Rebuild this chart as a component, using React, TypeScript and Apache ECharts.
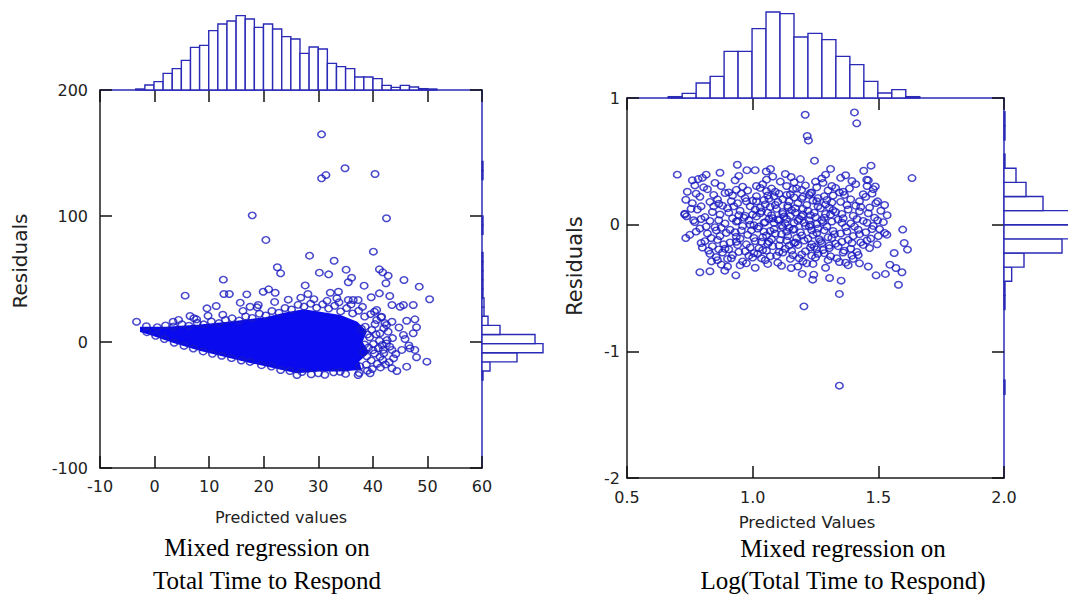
import React, { useEffect, useRef } from "react";
import * as echarts from "echarts";

// ---------- tick labels ----------
const leftXTicks = [-10, 0, 10, 20, 30, 40, 50, 60];
const leftYTicks = [-100, 0, 100, 200];
const rightXTicks = [0.5, 1.0, 1.5, 2.0];
const rightYTicks = [-2, -1, 0, 1];

// ---------- marginal histograms (counts) ----------
const leftTopBinStart = -3.45;
const leftTopBinWidth = 1.672;
const leftTopCounts = [3, 15, 25, 50, 64, 89, 128, 134, 178, 198, 207, 223, 213, 188, 198, 183, 160, 153, 110, 129, 123, 80, 70, 64, 39, 39, 34, 14, 8, 14, 9, 4, 3];

const leftSideBinStart = -30.2;
const leftSideBinWidth = 7.23;
const leftSideCounts = [3, 24, 105, 183, 159, 54, 18, 6, 6, 3, 3, 3, 3, 3, 0, 0, 3, 3, 0, 0, 0, 0, 3, 3];

const rightTopBinStart = 0.664;
const rightTopBinWidth = 0.0556;
const rightTopCounts = [4, 14, 45, 65, 140, 140, 208, 258, 253, 183, 194, 175, 125, 100, 50, 15, 25, 4];

const rightSideBinStart = -1.3385;
const rightSideBinWidth = 0.1115;
const rightSideCounts = [3, 0, 0, 0, 0, 0, 3, 3, 23, 60, 174, 195, 200, 117, 66, 36, 3, 0, 3, 3];

// ---------- scatter: left (raw residuals) ----------
const leftDenseCore = [
  [-2.4, 11.0], [2.2, 11.0], [8.3, 12.8], [14.4, 15.3], [20.5, 18.6], [24.2, 22.5], [27.3, 24.8],
  [30.3, 22.8], [34.0, 20.2], [37.0, 15.0], [38.6, 8.0], [37.8, 0.0], [39.0, -8.0], [37.2, -15.0],
  [37.6, -21.0], [34.4, -22.3], [30.3, -22.3], [26.0, -23.6], [22.4, -20.0], [18.1, -16.0], [13.2, -11.0],
  [8.3, -5.8], [3.4, 0.6], [-0.2, 5.8], [-2.4, 8.8]
];
const leftPoints = [
  [30.6, 164.8], [34.9, 137.9], [40.4, 133.3], [30.6, 129.9], [31.4, 132.5], [17.9, 100.5], [42.5, 98.2],
  [20.4, 81.0], [28.4, 68.5], [40.1, 71.7], [32.9, 64.5], [22.5, 59.3], [23.1, 54.5], [30.2, 55.0],
  [31.9, 53.7], [35.1, 57.4], [41.2, 57.7], [41.8, 55.3], [42.8, 52.6], [36.1, 51.0], [35.5, 47.4],
  [42.4, 46.6], [45.7, 49.2], [48.5, 43.9], [12.6, 49.5], [27.6, 44.9], [38.4, 44.7], [5.6, 36.8],
  [12.7, 38.1], [13.7, 38.1], [16.9, 37.8], [9.6, 26.7], [11.3, 28.6], [6.5, 20.6], [7.7, 18.0],
  [-3.3, 16.1], [3.4, 16.1], [15.7, 31.2], [17.5, 28.0], [19.0, 29.4], [19.9, 39.9], [20.9, 41.8],
  [22.1, 39.1], [28.1, 38.1], [32.2, 39.1], [33.7, 39.9], [33.4, 34.7], [35.5, 33.3], [36.4, 33.3],
  [37.3, 33.3], [39.7, 35.5], [41.2, 38.6], [43.1, 36.5], [43.5, 29.4], [45.0, 28.0], [45.6, 29.4],
  [47.4, 29.4], [50.4, 33.9], [40.7, 25.4], [41.6, 20.1], [43.5, 16.1], [42.5, 13.5], [46.2, 16.9],
  [47.7, 18.0], [48.0, 11.7], [47.4, 6.9], [45.6, 5.6], [43.1, -3.7], [43.5, -6.3], [45.3, -6.3],
  [46.8, -5.0], [47.7, -6.3], [43.8, -12.9], [48.0, -12.1], [49.9, -15.6], [43.5, -20.9], [44.4, -23.0],
  [46.2, -19.6], [39.5, -24.8], [37.3, -26.2], [34.0, -23.6], [30.0, -24.8], [26.1, -26.2], [41.9, -6.3],
  [41.3, 6.9],
  [-1.5, 12.5], [0.5, 11.8], [2.0, 13.2], [3.5, 12.4], [5.0, 14.1], [6.3, 12.9], [7.8, 15.2], [9.0, 14.0],
  [10.4, 16.3], [11.8, 15.0], [13.0, 17.5], [14.2, 18.8], [15.5, 17.0], [16.7, 20.3], [17.9, 19.1],
  [19.2, 22.4], [20.4, 21.0], [21.5, 24.6], [22.8, 23.2], [23.9, 27.0], [25.1, 25.8], [26.3, 29.5],
  [27.4, 28.1], [28.6, 30.4], [29.7, 27.2], [30.8, 29.9], [31.9, 26.5], [33.0, 28.8], [34.1, 24.3],
  [35.2, 26.9], [36.3, 22.7], [37.4, 24.8], [38.5, 20.2], [39.6, 22.1], [40.7, 17.4], [41.5, 19.6],
  [42.2, 15.0], [12.5, 21.6], [16.2, 24.7], [18.8, 27.5], [22.0, 31.8], [24.5, 33.6], [26.8, 35.2],
  [29.2, 34.0], [31.6, 32.7], [33.8, 31.5], [36.0, 29.8], [38.1, 27.9], [40.3, 24.0], [7.2, 18.9],
  [9.8, 20.8], [4.4, 17.5],
  [42.8, 8.2], [43.6, 3.1], [42.5, -1.2], [44.2, -9.5], [43.0, -16.0], [41.8, -14.2], [42.6, 1.5],
  [44.8, 11.5], [45.9, 2.4], [46.6, -2.8],
  [39.0, -22.8], [37.5, -24.6], [35.0, -25.3], [32.8, -24.1], [31.2, -26.0], [28.7, -25.6], [27.0, -23.9],
  [24.8, -23.0], [23.1, -22.2], [21.4, -19.5], [19.6, -18.4], [17.5, -15.8], [15.9, -14.7], [14.1, -12.8],
  [12.3, -10.9], [10.6, -9.4], [8.9, -7.5], [7.1, -5.2], [5.4, -3.1], [3.6, -0.6], [1.8, 2.3], [0.2, 4.9],
  [-1.4, 7.8],
  [38.6, 12.2], [39.8, 9.6], [40.6, 6.1], [39.4, 3.8], [41.2, 1.0], [40.1, -1.6], [39.2, -4.3], [41.0, -4.9],
  [40.3, -9.1], [38.9, -11.4], [41.3, -11.8], [39.7, -14.6], [40.8, -17.3], [38.8, -17.9], [41.4, -20.2],
  [39.9, -21.5], [42.0, -9.0], [40.0, -6.5], [38.5, -2.0], [41.7, -2.4], [39.0, 6.0], [37.9, 10.5],
  [40.4, 14.2], [42.0, 11.0], [38.3, -8.2], [37.6, -19.3], [42.3, -17.8]
];

// ---------- scatter: right (log residuals) ----------
const rightPoints = [
  [1.209, 0.868], [1.405, 0.886], [1.414, 0.80], [1.217, 0.70], [1.222, 0.665], [1.246, 0.505], [0.70, 0.395],
  [1.634, 0.368], [0.939, 0.473], [0.977, 0.43], [0.76, 0.35], [0.783, 0.36], [1.471, 0.466], [1.442, 0.426],
  [1.29, 0.395], [1.054, 0.42], [1.071, 0.44], [1.153, 0.376], [0.734, 0.197], [0.73, 0.087], [0.737, 0.066],
  [0.734, -0.105], [0.836, -0.29], [0.79, -0.376], [0.83, -0.368], [0.889, -0.363], [0.933, -0.40],
  [1.153, -0.342], [1.197, -0.389], [1.243, -0.395], [1.306, -0.421], [1.352, -0.442], [1.491, -0.40],
  [1.528, -0.389], [1.58, -0.474], [1.546, -0.316], [1.57, -0.342], [1.594, -0.376], [1.534, -0.079],
  [1.597, -0.039], [1.603, -0.145], [1.616, -0.197], [1.563, -0.224], [1.497, 0.034], [1.497, 0.184],
  [1.488, 0.302], [1.454, 0.355], [1.204, -0.645], [1.345, -1.271], [1.345, -0.547], [1.239, -0.434],
  [0.87, 0.41], [1.01, 0.43], [1.13, 0.40], [1.31, 0.44], [1.37, 0.39],
  [0.80, 0.37], [0.93, 0.35], [1.08, 0.38], [1.19, 0.36], [1.25, 0.34], [1.35, 0.37], [1.46, 0.35],
  [0.77, 0.31], [0.85, 0.33], [0.96, 0.30], [1.04, 0.32], [1.11, 0.34], [1.21, 0.31], [1.28, 0.33], [1.33, 0.29], [1.41, 0.32], [1.48, 0.28],
  [0.74, 0.26], [0.82, 0.28], [0.89, 0.25], [0.98, 0.27], [1.03, 0.29], [1.09, 0.26], [1.16, 0.28], [1.23, 0.25], [1.30, 0.27], [1.36, 0.26], [1.44, 0.24],
  [0.79, 0.22], [0.86, 0.20], [0.92, 0.23], [0.97, 0.21], [1.06, 0.23], [1.12, 0.20], [1.15, 0.24], [1.20, 0.22], [1.26, 0.21], [1.32, 0.23], [1.39, 0.20], [1.45, 0.22],
  [0.76, 0.17], [0.83, 0.18], [0.88, 0.15], [0.94, 0.17], [1.00, 0.19], [1.05, 0.16], [1.10, 0.18], [1.14, 0.15], [1.18, 0.17], [1.24, 0.19], [1.29, 0.16], [1.35, 0.18], [1.41, 0.15], [1.49, 0.17],
  [0.78, 0.12], [0.84, 0.10], [0.90, 0.13], [0.95, 0.11], [1.01, 0.12], [1.07, 0.14], [1.12, 0.10], [1.17, 0.13], [1.22, 0.11], [1.27, 0.13], [1.33, 0.10], [1.38, 0.12], [1.43, 0.14], [1.51, 0.11],
  [0.73, 0.08], [0.81, 0.06], [0.87, 0.08], [0.92, 0.05], [0.97, 0.07], [1.03, 0.09], [1.08, 0.05], [1.15, 0.07], [1.20, 0.08], [1.25, 0.06], [1.31, 0.08], [1.36, 0.05], [1.40, 0.07], [1.46, 0.09],
  [0.77, 0.02], [0.83, 0.03], [0.89, 0.01], [0.94, 0.03], [0.99, 0.00], [1.05, 0.02], [1.10, 0.04], [1.13, 0.01], [1.18, 0.03], [1.23, 0.00], [1.28, 0.02], [1.34, 0.04], [1.39, 0.01], [1.44, 0.03], [1.52, 0.02],
  [0.79, -0.03], [0.85, -0.02], [0.91, -0.04], [0.96, -0.01], [1.02, -0.03], [1.07, -0.05], [1.12, -0.02], [1.16, -0.04], [1.21, -0.01], [1.26, -0.03], [1.32, -0.05], [1.37, -0.02], [1.42, -0.04], [1.48, -0.01],
  [0.75, -0.08], [0.82, -0.07], [0.87, -0.09], [0.93, -0.06], [0.98, -0.08], [1.04, -0.10], [1.09, -0.07], [1.14, -0.09], [1.19, -0.06], [1.24, -0.08], [1.30, -0.10], [1.35, -0.07], [1.40, -0.09], [1.45, -0.06], [1.50, -0.09],
  [0.81, -0.13], [0.86, -0.12], [0.91, -0.14], [0.95, -0.11], [1.01, -0.13], [1.06, -0.15], [1.11, -0.12], [1.17, -0.14], [1.22, -0.11], [1.27, -0.13], [1.33, -0.15], [1.38, -0.12], [1.43, -0.14], [1.47, -0.11],
  [0.80, -0.18], [0.84, -0.17], [0.89, -0.19], [0.94, -0.16], [0.99, -0.18], [1.04, -0.20], [1.08, -0.17], [1.13, -0.19], [1.18, -0.16], [1.23, -0.18], [1.28, -0.20], [1.34, -0.17], [1.39, -0.19], [1.44, -0.16],
  [0.83, -0.23], [0.88, -0.22], [0.92, -0.24], [0.97, -0.21], [1.02, -0.23], [1.07, -0.25], [1.12, -0.22], [1.16, -0.24], [1.21, -0.21], [1.26, -0.23], [1.31, -0.25], [1.36, -0.22], [1.42, -0.24],
  [0.86, -0.28], [0.90, -0.27], [0.96, -0.29], [1.00, -0.26], [1.05, -0.28], [1.10, -0.30], [1.15, -0.27], [1.20, -0.29], [1.25, -0.26], [1.30, -0.28], [1.37, -0.30], [1.40, -0.27],
  [0.90, -0.33], [0.95, -0.32], [1.01, -0.34], [1.06, -0.31], [1.18, -0.33], [1.24, -0.31], [1.29, -0.34], [1.38, -0.32], [1.46, -0.33],
  [0.99, 0.145], [1.035, 0.105], [1.065, 0.045], [1.095, 0.125], [1.125, 0.065], [1.155, 0.115], [1.185, 0.045], [1.215, 0.155],
  [1.245, 0.095], [1.275, 0.035], [1.305, 0.135], [1.005, -0.005], [1.045, -0.055], [1.085, 0.015], [1.115, -0.075], [1.145, -0.025],
  [1.175, -0.105], [1.205, 0.015], [1.235, -0.045], [1.265, -0.115], [1.295, -0.015], [1.325, -0.075], [0.965, 0.055], [0.935, -0.095],
  [0.975, -0.155], [1.025, -0.185], [1.065, -0.135], [1.105, -0.215], [1.145, -0.165], [1.195, -0.235], [1.235, -0.155], [1.285, -0.225],
  [1.355, -0.135], [0.915, 0.185], [0.955, 0.245], [1.015, 0.225], [1.055, 0.265], [1.135, 0.235], [1.175, 0.285], [1.235, 0.255],
  [1.285, 0.225], [1.345, 0.255], [1.375, 0.155], [1.415, 0.045], [0.865, 0.035], [0.855, -0.045], [0.905, -0.195], [0.845, 0.145],
  [0.815, 0.395], [0.945, 0.385], [1.055, 0.355], [1.165, 0.335], [1.275, 0.365], [1.395, 0.345],
  [0.805, 0.295], [0.875, 0.305], [0.935, 0.275], [1.015, 0.305], [1.075, 0.285], [1.135, 0.305], [1.195, 0.275], [1.255, 0.295],
  [1.315, 0.305], [1.385, 0.285], [1.455, 0.305],
  [0.775, 0.245], [0.845, 0.235], [0.905, 0.255], [1.045, 0.195], [1.085, 0.225], [1.165, 0.215], [1.225, 0.235], [1.295, 0.195],
  [1.365, 0.235], [1.425, 0.185], [1.475, 0.245],
  [0.795, 0.145], [0.865, 0.165], [0.925, 0.145], [0.975, 0.185], [1.465, 0.135], [1.525, 0.155], [0.755, 0.125],
  [0.795, 0.045], [0.905, 0.095], [0.945, 0.075], [1.355, 0.085], [1.425, 0.105], [1.485, 0.055], [1.535, 0.075], [0.765, 0.035],
  [0.815, -0.015], [0.875, -0.025], [0.935, 0.025], [1.355, 0.015], [1.405, -0.015], [1.455, 0.015], [1.505, -0.035],
  [0.775, -0.055], [0.835, -0.105], [0.895, -0.065], [0.955, -0.045], [1.375, -0.055], [1.425, -0.075], [1.475, -0.035], [1.525, -0.065],
  [0.795, -0.145], [0.885, -0.155], [0.935, -0.135], [1.395, -0.145], [1.455, -0.125], [1.495, -0.155],
  [0.825, -0.205], [0.865, -0.195], [0.945, -0.215], [1.005, -0.225], [1.055, -0.205], [1.155, -0.205], [1.255, -0.195], [1.305, -0.185],
  [1.365, -0.205], [1.415, -0.215], [1.465, -0.185],
  [0.855, -0.255], [0.915, -0.265], [0.985, -0.245], [1.035, -0.265], [1.095, -0.245], [1.185, -0.265], [1.235, -0.245], [1.335, -0.265], [1.395, -0.245],
  [0.875, -0.315], [0.975, -0.305], [1.115, -0.325], [1.215, -0.305], [1.345, -0.295], [1.425, -0.305],
  [1.0, 0.08], [1.03, 0.135], [1.06, 0.095], [1.09, 0.155], [1.12, 0.085], [1.14, 0.135], [1.17, 0.095], [1.2, 0.125], [1.23, 0.075],
  [1.26, 0.145], [1.29, 0.085], [1.32, 0.115],
  [0.985, 0.035], [1.015, 0.065], [1.045, 0.015], [1.075, 0.075], [1.105, 0.035], [1.135, 0.045], [1.165, 0.015], [1.195, 0.065],
  [1.225, 0.035], [1.255, 0.005], [1.285, 0.055], [1.315, 0.025],
  [0.995, -0.045], [1.025, -0.015], [1.055, -0.085], [1.085, -0.035], [1.115, -0.005], [1.135, -0.055], [1.165, -0.035], [1.195, -0.085],
  [1.225, -0.015], [1.255, -0.065], [1.285, -0.045], [1.315, -0.105],
  [1.005, -0.105], [1.035, -0.135], [1.075, -0.115], [1.105, -0.165], [1.135, -0.125], [1.165, -0.145], [1.205, -0.125], [1.245, -0.175],
  [1.275, -0.145], [1.305, -0.165],
  [1.015, 0.185], [1.065, 0.205], [1.105, 0.245], [1.145, 0.185], [1.195, 0.205], [1.255, 0.185], [1.315, 0.175]
];

// ---------- styles ----------
const AXIS_DARK = "#1e1e1e";
const FRAME_BLUE = "#2b2bb8";
const HIST_BLUE = "#2a2ab6";
const POINT_BLUE = "#1a1abf";
const CORE_BLUE = "#0a0aee";
const SANS = '"DejaVu Sans", sans-serif';
const SERIF = '"Liberation Serif", "Times New Roman", serif';

function bins(start: number, width: number, counts: number[]) {
  return counts.map((c, i) => [start + i * width, start + (i + 1) * width, c]);
}

function topHist(params: any, api: any) {
  const c = api.value(2);
  if (!c) return null;
  const p0 = api.coord([api.value(0), c]);
  const p1 = api.coord([api.value(1), 0]);
  return {
    type: "rect",
    shape: { x: p0[0], y: p0[1], width: p1[0] - p0[0], height: p1[1] - p0[1] },
    style: { fill: "#fff", stroke: HIST_BLUE, lineWidth: 1.4 },
  };
}

function sideHist(params: any, api: any) {
  const c = api.value(2);
  if (!c) return null;
  const p0 = api.coord([0, api.value(1)]);
  const p1 = api.coord([c, api.value(0)]);
  return {
    type: "rect",
    shape: { x: p0[0], y: p0[1], width: p1[0] - p0[0], height: p1[1] - p0[1] },
    style: { fill: "#fff", stroke: HIST_BLUE, lineWidth: 1.4 },
  };
}

function corePolygon(points: number[][], fill: string) {
  return (params: any, api: any) => {
    if (params.dataIndex !== 0) return null;
    return {
      type: "polygon",
      shape: { points: points.map((p) => api.coord(p)) },
      style: { fill, stroke: fill, lineWidth: 3 },
    };
  };
}

function mainAxis(grid: number, ticks: number[], pos: string, labels: boolean, margin = 10, fmt?: (v: number) => string) {
  const frame = pos === "top" || pos === "right";
  return {
    type: "value",
    gridIndex: grid,
    position: pos,
    min: ticks[0],
    max: ticks[ticks.length - 1],
    interval: ticks[1] - ticks[0],
    splitLine: { show: false },
    axisLine: { show: true, onZero: false, lineStyle: { color: frame ? FRAME_BLUE : AXIS_DARK, width: 1.5 } },
    axisTick: { show: true, inside: true, length: 12, lineStyle: { color: "#111", width: 1.5 } },
    axisLabel: {
      show: labels,
      showMinLabel: true,
      showMaxLabel: true,
      fontFamily: SANS,
      fontSize: 16,
      color: "#222",
      margin,
      formatter: fmt,
    },
  };
}

function hiddenAxis(grid: number, min: number, max: number) {
  return { type: "value", gridIndex: grid, min, max, show: false, splitLine: { show: false } };
}

const scatterStyle = {
  symbol: "circle",
  symbolSize: [7.5, 6.5],
  itemStyle: { color: "rgba(0,0,0,0)", borderColor: POINT_BLUE, borderWidth: 1.5 },
};

export default function App() {
  const ref = useRef<HTMLDivElement>(null);

  useEffect(() => {
    if (!ref.current) return;
    const chart = echarts.init(ref.current, null, { renderer: "svg" });
    const fmt1 = (v: number) => v.toFixed(1);

    const grid = (left: number, top: number, width: number, height: number) => ({
      left, top, width, height, containLabel: false, outerBoundsMode: "none",
    });

    const option: any = {
      animation: false,
      backgroundColor: "#fff",
      grid: [
        grid(100, 90, 382, 378),
        grid(100, 14, 382, 76),
        grid(482, 90, 62, 378),
        grid(627, 98, 377, 380),
        grid(627, 10, 377, 88),
        grid(1004, 98, 64, 380),
      ],
      xAxis: [
        mainAxis(0, leftXTicks, "bottom", true, 10),
        mainAxis(0, leftXTicks, "top", false),
        hiddenAxis(1, leftXTicks[0], leftXTicks[leftXTicks.length - 1]),
        hiddenAxis(2, 0, 186),
        mainAxis(3, rightXTicks, "bottom", true, 11, fmt1),
        mainAxis(3, rightXTicks, "top", false),
        hiddenAxis(4, rightXTicks[0], rightXTicks[rightXTicks.length - 1]),
        hiddenAxis(5, 0, 192),
      ],
      yAxis: [
        mainAxis(0, leftYTicks, "left", true, 12),
        mainAxis(0, leftYTicks, "right", false),
        hiddenAxis(1, 0, 228),
        hiddenAxis(2, leftYTicks[0], leftYTicks[leftYTicks.length - 1]),
        mainAxis(3, rightYTicks, "left", true, 7),
        mainAxis(3, rightYTicks, "right", false),
        hiddenAxis(4, 0, 264),
        hiddenAxis(5, rightYTicks[0], rightYTicks[rightYTicks.length - 1]),
      ],
      series: [
        { type: "custom", xAxisIndex: 0, yAxisIndex: 0, z: 1, data: leftDenseCore, renderItem: corePolygon(leftDenseCore, CORE_BLUE) },
        { type: "scatter", xAxisIndex: 0, yAxisIndex: 0, z: 2, data: leftPoints, ...scatterStyle },
        { type: "custom", xAxisIndex: 2, yAxisIndex: 2, clip: false, data: bins(leftTopBinStart, leftTopBinWidth, leftTopCounts), renderItem: topHist },
        { type: "custom", xAxisIndex: 3, yAxisIndex: 3, clip: false, data: bins(leftSideBinStart, leftSideBinWidth, leftSideCounts), renderItem: sideHist },
        { type: "scatter", xAxisIndex: 4, yAxisIndex: 4, z: 2, data: rightPoints, ...scatterStyle },
        { type: "custom", xAxisIndex: 6, yAxisIndex: 6, clip: false, data: bins(rightTopBinStart, rightTopBinWidth, rightTopCounts), renderItem: topHist },
        { type: "custom", xAxisIndex: 7, yAxisIndex: 7, clip: false, data: bins(rightSideBinStart, rightSideBinWidth, rightSideCounts), renderItem: sideHist },
      ],
      graphic: [
        { type: "text", x: 20, y: 261, rotation: Math.PI / 2, style: { text: "Residuals", font: `20px ${SANS}`, fill: "#222", align: "center", verticalAlign: "middle" } },
        { type: "text", x: 575, y: 266, rotation: Math.PI / 2, style: { text: "Residuals", font: `21px ${SANS}`, fill: "#222", align: "center", verticalAlign: "middle" } },
        { type: "text", x: 281, y: 517, style: { text: "Predicted values", font: `16px ${SANS}`, fill: "#222", align: "center", verticalAlign: "middle" } },
        { type: "text", x: 807, y: 522, style: { text: "Predicted Values", font: `16.5px ${SANS}`, fill: "#222", align: "center", verticalAlign: "middle" } },
        { type: "text", x: 267, y: 547, style: { text: "Mixed regression on", font: `25px ${SERIF}`, fill: "#000", align: "center", verticalAlign: "middle" } },
        { type: "text", x: 267, y: 580, style: { text: "Total Time to Respond", font: `25px ${SERIF}`, fill: "#000", align: "center", verticalAlign: "middle" } },
        { type: "text", x: 843, y: 548, style: { text: "Mixed regression on", font: `25px ${SERIF}`, fill: "#000", align: "center", verticalAlign: "middle" } },
        { type: "text", x: 843, y: 580, style: { text: "Log(Total Time to Respond)", font: `25px ${SERIF}`, fill: "#000", align: "center", verticalAlign: "middle" } },
      ],
    };
    chart.setOption(option);
    return () => chart.dispose();
  }, []);

  return <div ref={ref} style={{ position: "absolute", left: 0, top: 0, width: 1068, height: 600 }} />;
}
